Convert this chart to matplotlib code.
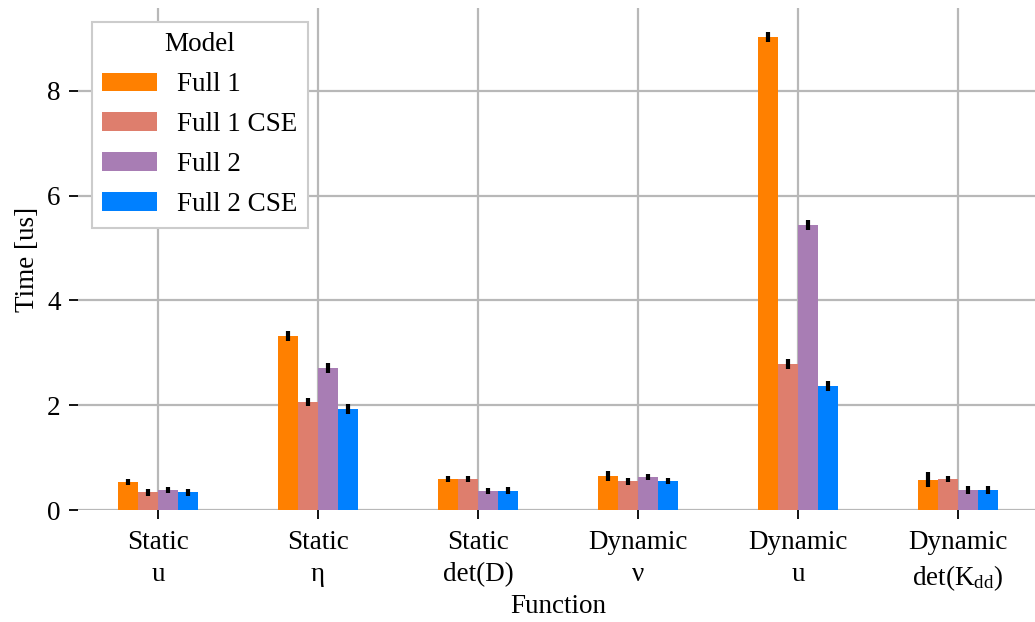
import matplotlib.pyplot as plt
import numpy as np

plt.rcParams['font.family'] = ['Liberation Serif', 'DejaVu Serif']
plt.rcParams['mathtext.fontset'] = 'custom'
plt.rcParams['mathtext.rm'] = 'Liberation Serif'
plt.rcParams['mathtext.it'] = 'Liberation Serif:italic'

# data
functions = ["Static\nu", "Static\nη", "Static\ndet(D)",
             "Dynamic\nν", "Dynamic\nu", "Dynamic\ndet(K$_{\\mathrm{dd}}$)"]
models = ["Full 1", "Full 1 CSE", "Full 2", "Full 2 CSE"]

full1 = [0.53, 3.32, 0.59, 0.65, 9.03, 0.58]
full1_cse = [0.34, 2.06, 0.59, 0.55, 2.79, 0.59]
full2 = [0.38, 2.71, 0.37, 0.63, 5.44, 0.38]
full2_cse = [0.34, 1.93, 0.37, 0.55, 2.37, 0.38]

full1_err = [0.06, 0.10, 0.06, 0.10, 0.10, 0.14]
full1_cse_err = [0.07, 0.08, 0.06, 0.07, 0.09, 0.06]
full2_err = [0.06, 0.10, 0.06, 0.05, 0.10, 0.07]
full2_cse_err = [0.07, 0.095, 0.07, 0.06, 0.10, 0.07]

values = [full1, full1_cse, full2, full2_cse]
errors = [full1_err, full1_cse_err, full2_err, full2_cse_err]
colors = ['#ff8000', '#de7e6d', '#a87db4', '#0080ff']

fs = 19.5

fig = plt.figure(figsize=(10.35, 6.22), dpi=100)
ax = fig.add_axes([0.0754, 0.18, 0.9275, 0.807])

x = np.arange(len(functions))
width = 0.125
for i in range(len(models)):
    ax.bar(x + (i - 1.5) * width, values[i], width, color=colors[i],
           label=models[i], zorder=2)
    ax.errorbar(x + (i - 1.5) * width, values[i], yerr=errors[i], fmt='none',
                ecolor='black', elinewidth=3, capsize=0, zorder=3)

ax.set_xlim(-0.5, 5.5)
ax.set_ylim(0, 9.58)
ax.set_yticks([0, 2, 4, 6, 8])
ax.set_xticks(x)
ax.set_xticklabels(functions, fontsize=fs, linespacing=1.35)
ax.tick_params(axis='y', labelsize=fs, pad=6)
ax.tick_params(axis='x', pad=8)
ax.tick_params(length=6.5, width=1.3, color='black')
ax.grid(True, color='#b8b8b8', linewidth=1.6, zorder=0)
ax.set_axisbelow(True)
for s in ax.spines.values():
    s.set_visible(False)

ax.set_xlabel('Function', fontsize=fs, labelpad=1)
ax.set_ylabel('Time [us]', fontsize=fs, labelpad=5)

leg = ax.legend(title='Model', fontsize=fs, title_fontsize=fs, loc='upper left',
                handlelength=2.0, handleheight=0.68, handletextpad=0.75,
                labelspacing=0.55, borderaxespad=0.5, borderpad=0.4,
                fancybox=False, framealpha=1)
leg.get_frame().set_edgecolor('#cccccc')
leg.get_frame().set_linewidth(1.5)

fig.savefig('out.png', dpi=100)
